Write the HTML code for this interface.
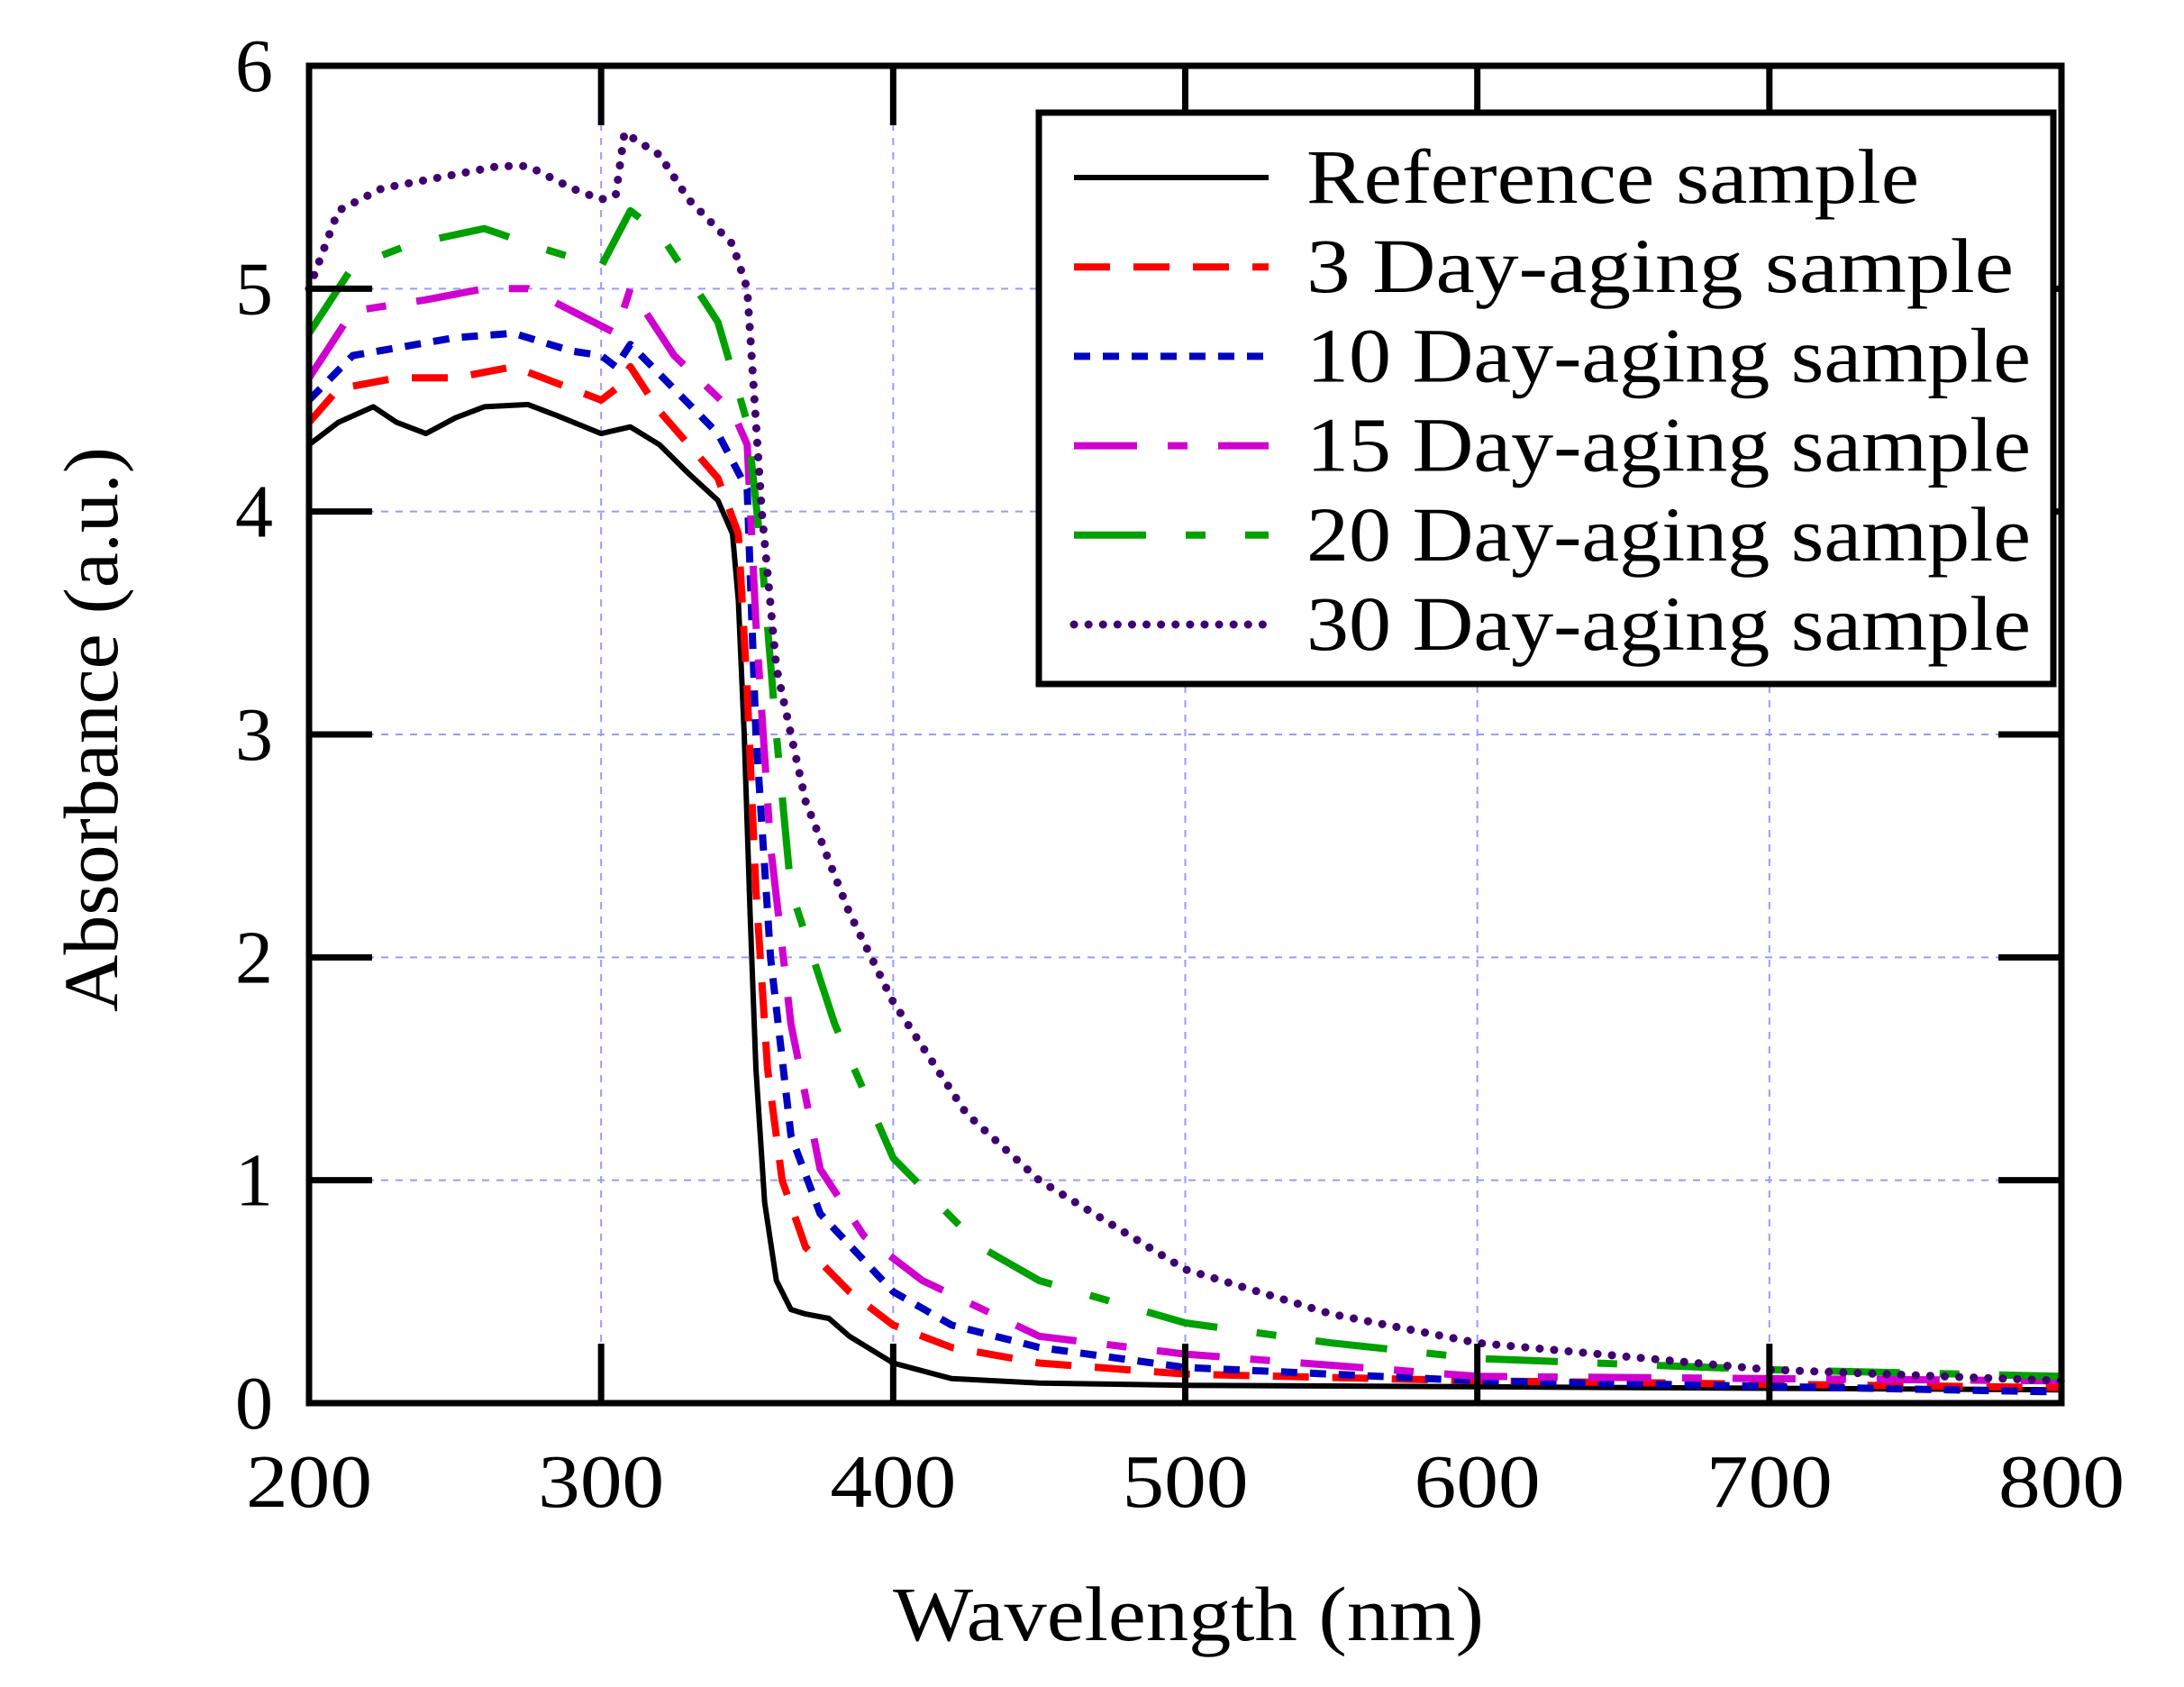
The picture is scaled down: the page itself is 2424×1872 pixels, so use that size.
<!DOCTYPE html>
<html><head><meta charset="utf-8"><style>
html,body{margin:0;padding:0;background:#fff;}
svg{display:block;}
text{font-family:"Liberation Serif",serif;fill:#000;}
</style></head><body>
<svg id="s" width="2424" height="1872" viewBox="0 0 2424 1872" xmlns="http://www.w3.org/2000/svg">
<g id="grid" stroke="#9a9aff" stroke-width="2" stroke-dasharray="8,8"></g>
<g id="curves" fill="none" stroke-linejoin="round"></g>
<rect x="343" y="73" width="1945" height="1484" fill="none" stroke="#000" stroke-width="7"/>
<g id="ticks" stroke="#000" stroke-width="7"></g>
<g id="labels" font-size="84"></g>
<text x="991" y="1820" font-size="86" textLength="656" lengthAdjust="spacingAndGlyphs">Wavelength (nm)</text>
<text transform="translate(130,1123) rotate(-90)" font-size="86" textLength="627" lengthAdjust="spacingAndGlyphs">Absorbance (a.u.)</text>
<rect x="1153" y="125" width="1126" height="634" fill="#fff" stroke="#000" stroke-width="7"/>
<g id="legend" font-size="86"></g>
</svg>
<script>
const L=343,R=2288,T=73,B=1557;
const X=w=>L+(w-200)*(R-L)/600, Y=a=>B-a*(B-T)/6;
const NS="http://www.w3.org/2000/svg";
function el(p,t,at,txt){const e=document.createElementNS(NS,t);for(const k in at)e.setAttribute(k,at[k]);if(txt)e.textContent=txt;p.appendChild(e);return e;}
const g=document.getElementById('grid'),tk=document.getElementById('ticks'),lb=document.getElementById('labels');
for(let w=300;w<800;w+=100){el(g,'line',{x1:X(w),y1:T,x2:X(w),y2:B});}
for(let a=1;a<6;a++){el(g,'line',{x1:L,y1:Y(a),x2:R,y2:Y(a)});}
for(let w=200;w<=800;w+=100){if(w>200&&w<800){el(tk,'line',{x1:X(w),y1:B,x2:X(w),y2:B-66});el(tk,'line',{x1:X(w),y1:T,x2:X(w),y2:T+66});}
el(lb,'text',{x:X(w),y:1672,'text-anchor':'middle',textLength:140,lengthAdjust:'spacingAndGlyphs'},String(w));}
for(let a=0;a<=6;a++){if(a>0&&a<6){el(tk,'line',{x1:L,y1:Y(a),x2:L+70,y2:Y(a)});el(tk,'line',{x1:R,y1:Y(a),x2:R-70,y2:Y(a)});}
el(lb,'text',{x:303,y:Y(a)+28,'text-anchor':'end'},String(a));}
const D=[
["#000","none",6,"Reference sample",[[200,4.3],[210,4.4],[222,4.47],[230,4.4],[240,4.35],[250,4.42],[260,4.47],[275,4.48],[285,4.43],[300,4.35],[310,4.38],[320,4.3],[330,4.17],[340,4.05],[345,3.9],[347,3.6],[349,3.0],[351,2.2],[353,1.5],[356,0.9],[360,0.55],[365,0.42],[370,0.4],[378,0.38],[385,0.3],[400,0.18],[420,0.11],[450,0.09],[500,0.08],[800,0.06]]],
["#f00","40,26",8,"3 Day-aging sample",[[200,4.4],[210,4.55],[230,4.6],[250,4.6],[270,4.65],[290,4.55],[300,4.5],[305,4.55],[310,4.65],[320,4.45],[330,4.3],[340,4.15],[347,3.9],[350,3.2],[353,2.3],[357,1.5],[362,1.0],[370,0.7],[385,0.5],[400,0.35],[420,0.25],[450,0.18],[500,0.13],[600,0.1],[800,0.07]]],
["#0000c0","18,14",8,"10 Day-aging sample",[[200,4.5],[215,4.7],[250,4.78],[270,4.8],[290,4.72],[300,4.7],[305,4.65],[310,4.75],[325,4.55],[340,4.35],[350,4.1],[353,3.0],[358,2.0],[365,1.2],[375,0.85],[400,0.5],[420,0.35],[450,0.25],[500,0.16],[600,0.1],[800,0.05]]],
["#d000d0","70,34,22,34",8,"15 Day-aging sample",[[200,4.6],[215,4.9],[240,4.95],[260,5.0],[275,5.0],[290,4.9],[305,4.8],[310,5.0],[325,4.7],[345,4.45],[350,4.3],[353,3.5],[358,2.5],[365,1.7],[375,1.05],[390,0.75],[410,0.55],[450,0.3],[500,0.22],[550,0.17],[600,0.12],[800,0.1]]],
["#00a000","80,44,22,44",8,"20 Day-aging sample",[[200,4.8],[215,5.1],[235,5.2],[260,5.27],[280,5.18],[300,5.1],[310,5.35],[320,5.25],[340,4.85],[350,4.4],[355,3.8],[360,3.0],[365,2.3],[380,1.7],[400,1.1],[430,0.7],[450,0.55],[500,0.36],[550,0.27],[600,0.2],[700,0.15],[800,0.12]]],
["#400070","0.1,16",9,"30 Day-aging sample",[[200,5.0],[210,5.35],[225,5.45],[245,5.5],[265,5.55],[275,5.55],[290,5.45],[300,5.4],[305,5.42],[308,5.7],[320,5.6],[330,5.4],[345,5.2],[350,5.0],[355,4.0],[360,3.3],[370,2.7],[385,2.2],[400,1.8],[425,1.3],[450,1.0],[500,0.6],[550,0.4],[600,0.27],[700,0.15],[800,0.1]]]];
const cv=document.getElementById('curves'),lg=document.getElementById('legend');
const tl=[680,785,804,804,804,804];
D.forEach((d,i)=>{const pts=d[4].map(p=>X(p[0]).toFixed(1)+","+Y(p[1]).toFixed(1)).join(" ");
const at={points:pts,stroke:d[0],'stroke-width':d[2],fill:'none'};
if(d[1]!=="none"){at['stroke-dasharray']=d[1];}
if(d[1].startsWith("0.1"))at['stroke-linecap']='round';
el(cv,'polyline',at);
const y=197+i*99.2;const la={x1:1192,y1:y,x2:1408,y2:y,stroke:d[0],'stroke-width':d[2]};
if(d[1]!=="none")la['stroke-dasharray']=d[1];if(d[1].startsWith("0.1"))la['stroke-linecap']='round';
el(lg,'line',la);el(lg,'text',{x:1450,y:y+28,textLength:tl[i],lengthAdjust:'spacingAndGlyphs'},d[3]);});
</script>
</body></html>
